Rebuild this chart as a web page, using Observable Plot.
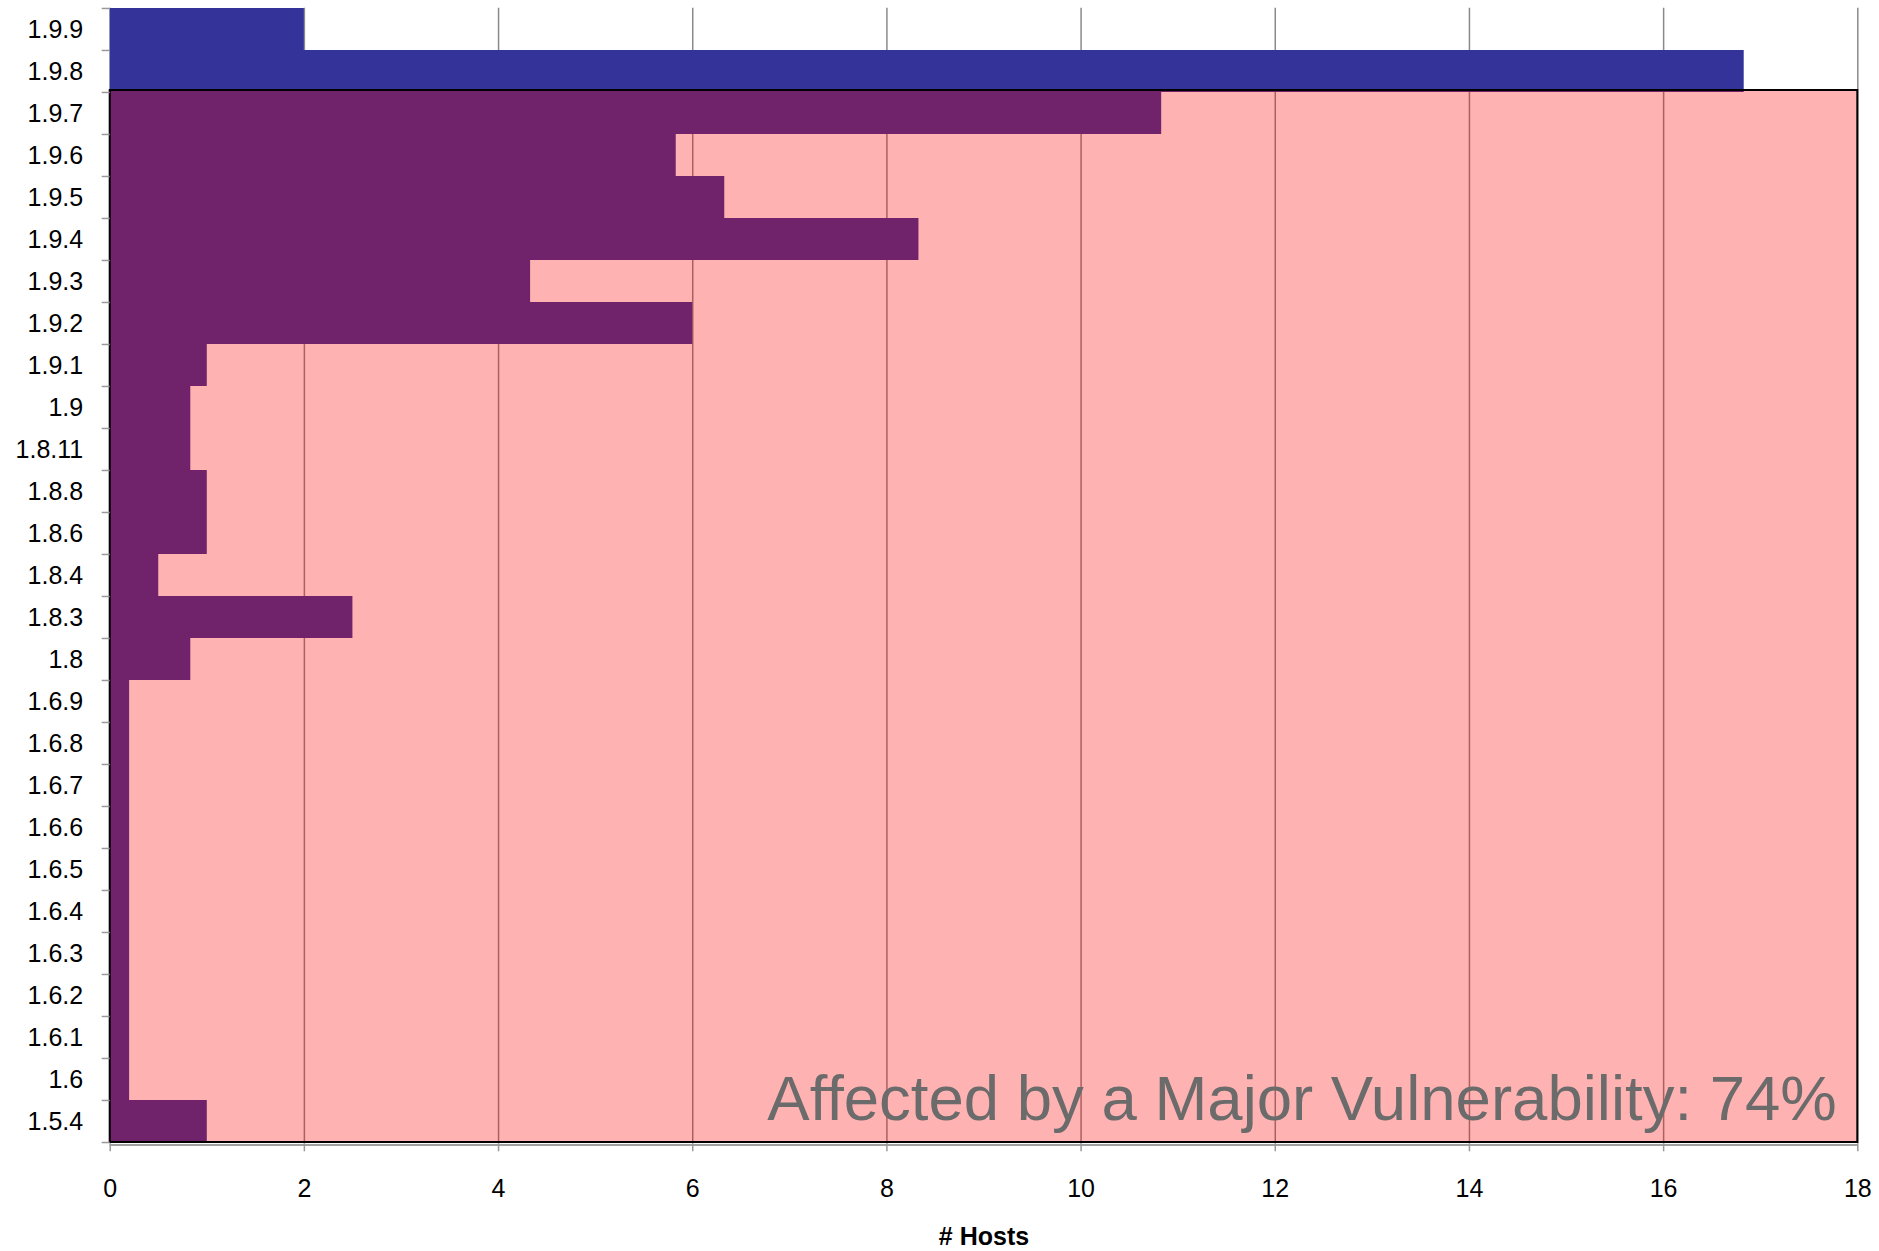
<!DOCTYPE html>
<html>
<head>
<meta charset="utf-8">
<script src="https://cdn.jsdelivr.net/npm/d3@7"></script>
<script src="https://cdn.jsdelivr.net/npm/@observablehq/plot@0.6"></script>
<style>
  html, body { margin: 0; padding: 0; background: #fff; }
  #chart svg { display: block; }
</style>
</head>
<body>
<div id="chart"></div>
<script>
// ---- data ----
const categories = ["1.9.9", "1.9.8", "1.9.7", "1.9.6", "1.9.5", "1.9.4", "1.9.3", "1.9.2", "1.9.1", "1.9",
  "1.8.11", "1.8.8", "1.8.6", "1.8.4", "1.8.3", "1.8",
  "1.6.9", "1.6.8", "1.6.7", "1.6.6", "1.6.5", "1.6.4", "1.6.3", "1.6.2", "1.6.1", "1.6", "1.5.4"];
const hosts = [2, 16.83, 10.83, 5.83, 6.33, 8.33, 4.33, 6, 1, 0.83,
  0.83, 1, 1, 0.5, 2.5, 0.83,
  0.2, 0.2, 0.2, 0.2, 0.2, 0.2, 0.2, 0.2, 0.2, 0.2, 1];
const xTicks = [0, 2, 4, 6, 8, 10, 12, 14, 16, 18];
const xMax = 18;
const xLabel = "# Hosts";
const annotation = "Affected by a Major Vulnerability: 74%";
const vulnerableFrom = "1.9.7";
const vulnerableTo = "1.5.4";

const data = categories.map((version, i) => ({version, hosts: hosts[i]}));
const vulnerableRegion = [{x1: 0, x2: xMax, y1: vulnerableFrom, y2: vulnerableTo}];

// ---- layout ----
const W = 1879, H = 1251;
const mt = 7.7, mb = 107.7, ml = 109.7, mr = 21.7;
const bw = (H - mt - mb) / categories.length;
const font = "'Liberation Sans', Arial, Helvetica, sans-serif";

const chart = Plot.plot({
  width: W,
  height: H,
  marginTop: mt,
  marginBottom: mb,
  marginLeft: ml,
  marginRight: mr,
  style: {fontFamily: font, fontSize: "25px", color: "#000", background: "#fff"},
  x: {domain: [0, xMax]},
  y: {domain: categories, padding: 0},
  marks: [
    Plot.gridX(xTicks, {stroke: "#8a8a8a", strokeOpacity: 1, strokeWidth: 1.5}),
    Plot.barX(data, {x: "hosts", y: "version", fill: "#333399"}),
    Plot.rect(vulnerableRegion, {x1: "x1", x2: "x2", y1: "y1", y2: "y2", insetTop: -2,
      fill: "#ff0000", fillOpacity: 0.3, stroke: "#000", strokeWidth: 2}),
    Plot.ruleY([categories[categories.length - 1]], {dy: bw / 2 + 2.5, stroke: "#a0a0a0", strokeWidth: 2}),
    Plot.text([annotation], {text: d => d, frameAnchor: "bottom-right", textAnchor: "end", lineAnchor: "middle",
      dx: -21, dy: -44, fontSize: 63.5, fill: "#6b6b6b"}),
    // y ticks at band boundaries
    Plot.axisY({ticks: categories, tickSize: 8, tickFormat: () => "", dy: -bw / 2, stroke: "#999", strokeWidth: 1.5}),
    Plot.axisY({ticks: [categories[categories.length - 1]], tickSize: 8, tickFormat: () => "", dy: bw / 2, stroke: "#999", strokeWidth: 1.5}),
    // y labels
    Plot.axisY({tickSize: 0, tickPadding: 27, fontSize: 25, fill: "#000", label: null}),
    // x axis
    Plot.axisX({ticks: xTicks, tickSize: 8, tickPadding: 27, fontSize: 25, stroke: "#999", strokeWidth: 1.5, fill: "#000", label: null}),
    Plot.text([xLabel], {text: d => d, frameAnchor: "bottom", lineAnchor: "middle", dy: 93,
      fontSize: 25, fontWeight: "bold", fill: "#000"})
  ]
});
document.getElementById("chart").appendChild(chart);
</script>
</body>
</html>
